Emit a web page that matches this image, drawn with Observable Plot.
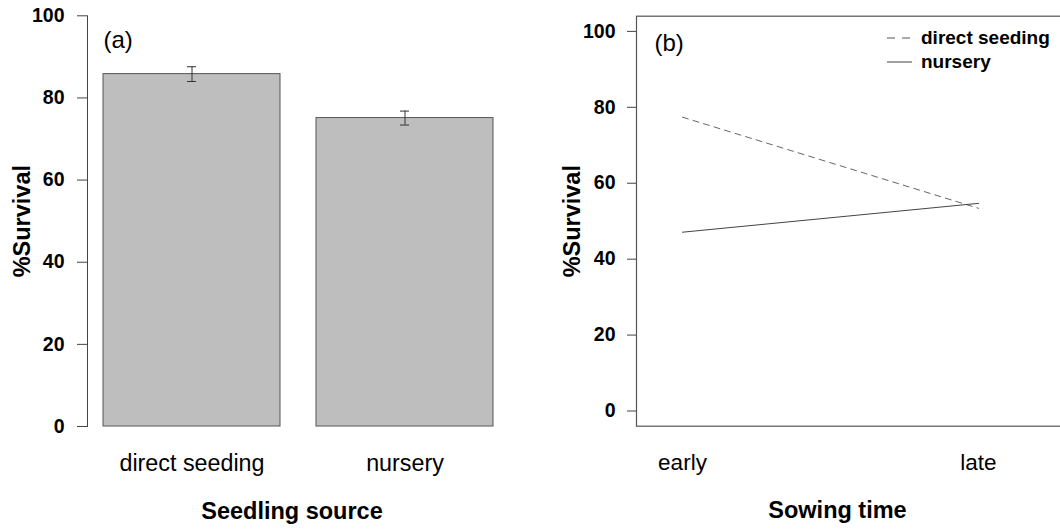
<!DOCTYPE html>
<html>
<head>
<meta charset="utf-8">
<script src="https://cdn.jsdelivr.net/npm/d3@7"></script>
<script src="https://cdn.jsdelivr.net/npm/@observablehq/plot@0.6"></script>
<style>
  html, body { margin: 0; padding: 0; background: #fff; overflow: hidden; }
  #wrap { position: relative; width: 1060px; height: 532px; overflow: hidden; background: #fff; }
  #legend { position: absolute; left: 887px; top: 26px; font-family: 'Liberation Sans', Arial, sans-serif; font-weight: bold; font-size: 19px; color: #000; }
  #legend .item { display: flex; align-items: center; height: 24px; }
  #legend svg { margin-right: 9px; }
</style>
</head>
<body>
<div id="wrap"></div>
<script>
// ---- data ----
const sources = ["direct seeding", "nursery"];
const sourceMeans = [85.8, 75.1];
const sourceSE = [1.8, 1.7];

const times = ["early", "late"];
const directSeeding = [77.4, 53.4];
const nurseryLine = [47.1, 54.7];

const yTicks = [0, 20, 40, 60, 80, 100];

// ---- tables ----
const barData = sources.map((s, i) => ({source: s, mean: sourceMeans[i], lo: sourceMeans[i] - sourceSE[i], hi: sourceMeans[i] + sourceSE[i]}));
const lineData = [
  ...times.map((t, i) => ({time: t, value: directSeeding[i], series: "direct seeding"})),
  ...times.map((t, i) => ({time: t, value: nurseryLine[i], series: "nursery"}))
];

const FONT = "'Liberation Sans', Arial, sans-serif";
const wrap = document.getElementById("wrap");

// ---- panel (a) ----
const plotA = Plot.plot({
  width: 530,
  height: 532,
  marginLeft: 87,
  marginRight: 20,
  marginTop: 15.3,
  marginBottom: 106,
  style: {fontFamily: FONT, background: "transparent", color: "#000"},
  x: {type: "band", domain: sources, paddingInner: 0.1667, paddingOuter: 0.072, axis: null},
  y: {domain: [0, 100], axis: null},
  marks: [
    Plot.barY(barData, {x: "source", y: "mean", fill: "#bebebe", stroke: "#555", strokeWidth: 1}),
    Plot.ruleX(barData, {x: "source", y1: "lo", y2: "hi", stroke: "#333", strokeWidth: 1}),
    Plot.tickY(barData, {x: "source", y: "hi", insetLeft: 84, insetRight: 84, stroke: "#333", strokeWidth: 1}),
    Plot.tickY(barData, {x: "source", y: "lo", insetLeft: 84, insetRight: 84, stroke: "#333", strokeWidth: 1}),
    Plot.frame({anchor: "left", stroke: "#444", strokeWidth: 1}),
    Plot.axisY({ticks: yTicks, tickSize: 10, tickPadding: 13, label: null, fontSize: 19.5, fontWeight: "bold", stroke: "#444", fill: "#000"}),
    Plot.axisX({tickSize: 0, tickPadding: 28, label: null, fontSize: 23.3, fill: "#000"}),
    Plot.text(["Seedling source"], {frameAnchor: "bottom", dx: -7, dy: 84.5, textAnchor: "middle", lineAnchor: "middle", fontSize: 23.5, fontWeight: "bold", fill: "#000"}),
    Plot.text(["%Survival"], {frameAnchor: "left", dx: -65, rotate: -90, textAnchor: "middle", lineAnchor: "middle", fontSize: 23.5, fontWeight: "bold", fill: "#000"}),
    Plot.text(["(a)"], {frameAnchor: "top-left", dx: 16, dy: 25, textAnchor: "start", lineAnchor: "middle", fontSize: 24, fill: "#000"})
  ]
});
plotA.style.position = "absolute";
plotA.style.top = "0px";
plotA.style.left = "0px";
wrap.appendChild(plotA);

// ---- panel (b) ----
const plotB = Plot.plot({
  width: 532,
  height: 532,
  marginLeft: 106,
  marginRight: 0,
  marginTop: 15.7,
  marginBottom: 106.3,
  style: {fontFamily: FONT, background: "transparent", color: "#000"},
  x: {type: "point", domain: times, range: [151.7, 447.7], padding: 0, axis: null},
  y: {domain: [-4, 104], axis: null},
  marks: [
    Plot.frame({stroke: "#555", strokeWidth: 1.2}),
    Plot.line(lineData.filter(d => d.series === "direct seeding"), {x: "time", y: "value", stroke: "#666", strokeWidth: 1, strokeDasharray: "6,5"}),
    Plot.line(lineData.filter(d => d.series === "nursery"), {x: "time", y: "value", stroke: "#444", strokeWidth: 1}),
    Plot.axisY({ticks: yTicks, tickSize: 9, tickPadding: 12, label: null, fontSize: 19.5, fontWeight: "bold", stroke: "#444", fill: "#000"}),
    Plot.axisX({tickSize: 0, tickPadding: 28, label: null, fontSize: 22.5, fill: "#000"}),
    Plot.text(["Sowing time"], {frameAnchor: "bottom", dx: -12, dy: 84.5, textAnchor: "middle", lineAnchor: "middle", fontSize: 23.5, fontWeight: "bold", fill: "#000"}),
    Plot.text(["%Survival"], {frameAnchor: "left", dx: -64, rotate: -90, textAnchor: "middle", lineAnchor: "middle", fontSize: 23.5, fontWeight: "bold", fill: "#000"}),
    Plot.text(["(b)"], {frameAnchor: "top-left", dx: 18, dy: 27.3, textAnchor: "start", lineAnchor: "middle", fontSize: 24, fill: "#000"})
  ]
});
plotB.style.position = "absolute";
plotB.style.top = "0px";
plotB.style.left = "530px";
wrap.appendChild(plotB);

// ---- legend for panel (b) ----
const legend = document.createElement("div");
legend.id = "legend";
const legendItems = [
  {label: "direct seeding", dash: "8,7", color: "#555"},
  {label: "nursery", dash: null, color: "#444"}
];
legend.innerHTML = legendItems.map(it =>
  `<div class="item"><svg width="25" height="4"><line x1="0" x2="25" y1="2" y2="2" stroke="${it.color}" stroke-width="1"${it.dash ? ` stroke-dasharray="${it.dash}"` : ""}/></svg><span>${it.label}</span></div>`
).join("");
wrap.appendChild(legend);
</script>
</body>
</html>
